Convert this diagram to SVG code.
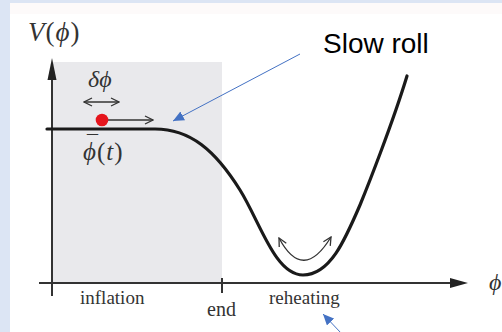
<svg xmlns="http://www.w3.org/2000/svg" width="502" height="332" viewBox="0 0 502 332">
<style>
.lbl{font-family:"Liberation Serif","DejaVu Serif",serif;fill:#333;}
.it{font-style:italic;}
.ax{stroke:#333;stroke-width:2;fill:none;}
.thin{stroke:#333;stroke-width:1.3;fill:none;}
.blue{stroke:#4472c4;stroke-width:1;fill:none;}
</style>
<defs>
<marker id="open" markerWidth="10" markerHeight="10" refX="9" refY="5" orient="auto-start-reverse" markerUnits="userSpaceOnUse">
<path d="M1,1 L9,5 L1,9" fill="none" stroke="#333" stroke-width="1.3"/>
</marker>
<marker id="bhead" markerWidth="12" markerHeight="10" refX="11" refY="5" orient="auto" markerUnits="userSpaceOnUse">
<path d="M0,0 L11,5 L0,10 Z" fill="#4472c4"/>
</marker>
</defs>
<rect x="0" y="0" width="502" height="332" fill="#dce5f4"/>
<rect x="10" y="3" width="492" height="329" fill="#ffffff"/>
<rect x="10" y="3" width="492" height="11" fill="#fdfafa"/>
<g id="inflation-region">
<rect x="53" y="62" width="169" height="221" fill="#e9e9ec"/>
</g>
<g id="axes">
<line class="ax" x1="52" y1="296" x2="52" y2="76"/>
<path d="M52,58 L56.5,80 L47.5,80 Z" fill="#222"/>
<line class="ax" x1="39" y1="283" x2="452" y2="283"/>
<path d="M468,283 L450,288 L450,278 Z" fill="#222"/>
<line class="ax" x1="222" y1="278" x2="222" y2="293"/>
</g>
<g id="potential">
<path d="M47,129 L155,129 C190,129 215,150 240,190 C260,222 275,275 303,275 C330,275 345,240 360,205 C367,188 392,125 407,76" fill="none" stroke="#1a1a1a" stroke-width="3.2" stroke-linecap="round"/>
</g>
<g id="field">
<line class="thin" x1="106" y1="120" x2="153" y2="120" marker-end="url(#open)"/>
<circle cx="102" cy="120" r="6.3" fill="#e5141c"/>
<line class="thin" x1="84" y1="102" x2="119" y2="102" marker-start="url(#open)" marker-end="url(#open)"/>
</g>
<g id="oscillation">
<path class="thin" d="M279,238 Q303,283 331,237" marker-start="url(#open)" marker-end="url(#open)"/>
</g>
<g id="labels">
<text class="lbl" x="28" y="41" font-size="27" letter-spacing="1"><tspan class="it">V</tspan>(<tspan class="it">ϕ</tspan>)</text>
<text class="lbl it" x="88" y="87" font-size="24">δϕ</text>
<text class="lbl" x="83" y="160" font-size="25" letter-spacing="1"><tspan class="it">ϕ</tspan>(<tspan class="it">t</tspan>)</text>
<text class="lbl" x="87" y="150" font-size="22">¯</text>
<text class="lbl" x="80" y="304" font-size="19">inflation</text>
<text class="lbl" x="207" y="316" font-size="20">end</text>
<text class="lbl" x="269" y="304" font-size="19">reheating</text>
<text class="lbl it" x="489" y="290" font-size="24">ϕ</text>
<text x="323" y="53" font-family="'Liberation Sans','Noto Sans',sans-serif" font-size="28" fill="#000">Slow roll</text>
</g>
<g id="connectors">
<line class="blue" x1="300" y1="54" x2="173" y2="121" marker-end="url(#bhead)"/>
<line class="blue" x1="341" y1="333" x2="323" y2="314" marker-end="url(#bhead)"/>
</g>
</svg>
